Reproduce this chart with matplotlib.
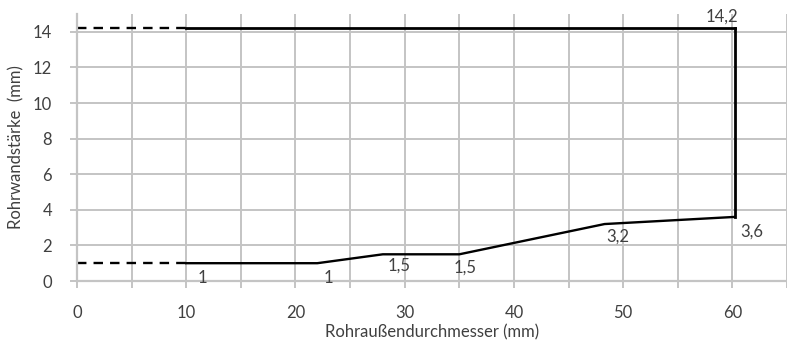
import matplotlib
matplotlib.use('Agg')
import matplotlib.pyplot as plt

plt.rcParams['font.family'] = ['Lato', 'DejaVu Sans']

# Data
upper_x = [10, 60.2]
upper_y = [14.2, 14.2]
right_x = [60.2, 60.2]
right_y = [14.2, 3.6]
lower_x = [10, 22, 28, 35, 48.3, 60.2]
lower_y = [1, 1, 1.5, 1.5, 3.2, 3.6]
dash_x = [0, 10]
dash_upper = [14.2, 14.2]
dash_lower = [1, 1]

labels = ['1', '1', '1,5', '1,5', '3,2', '3,6', '14,2']
label_x = [11.5, 23, 29.5, 35.5, 49.5, 61.8, 59]
label_y = [0.15, 0.15, 0.85, 0.75, 2.5, 2.8, 14.85]

grey = '#404040'
fig = plt.figure(figsize=(7.87, 3.44), dpi=100)
ax = fig.add_axes([77/787, 63/344, 1 - 77/787, (281 - 14)/344])

ax.plot(upper_x, upper_y, color='black', lw=2)
ax.plot(right_x, right_y, color='black', lw=2)
ax.plot(lower_x, lower_y, color='black', lw=1.7)
ax.plot(dash_x, dash_upper, color='black', lw=1.7, ls=(0, (4, 3)))
ax.plot(dash_x, dash_lower, color='black', lw=1.7, ls=(0, (4, 3)))

for t, x, y in zip(labels, label_x, label_y):
    ax.text(x, y, t, ha='center', va='center', fontsize=12, color=grey)

ax.set_xlim(0, 64.6)
ax.set_ylim(0, 15)
ax.set_xticks(range(0, 70, 10))
ax.set_xticks(range(0, 70, 5), minor=True)
ax.set_yticks(range(0, 16, 2))
ax.grid(True, which='both', color='#c4c4c4', lw=1.4)
ax.set_axisbelow(True)
ax.tick_params(which='both', colors='#c4c4c4', labelcolor=grey, labelsize=12, length=5, width=1.4)
ax.tick_params(axis='x', pad=12)
ax.tick_params(axis='y', pad=13)
for s in ['top', 'right']:
    ax.spines[s].set_visible(False)
for s in ['left', 'bottom']:
    ax.spines[s].set_color('#c4c4c4')
    ax.spines[s].set_linewidth(1.6)

ax.set_xlabel('Rohraußendurchmesser (mm)', fontsize=12, color=grey, labelpad=3)
ax.set_ylabel('Rohrwandstärke  (mm)', fontsize=12, color=grey, labelpad=6)

fig.savefig('out.png', dpi=100)
